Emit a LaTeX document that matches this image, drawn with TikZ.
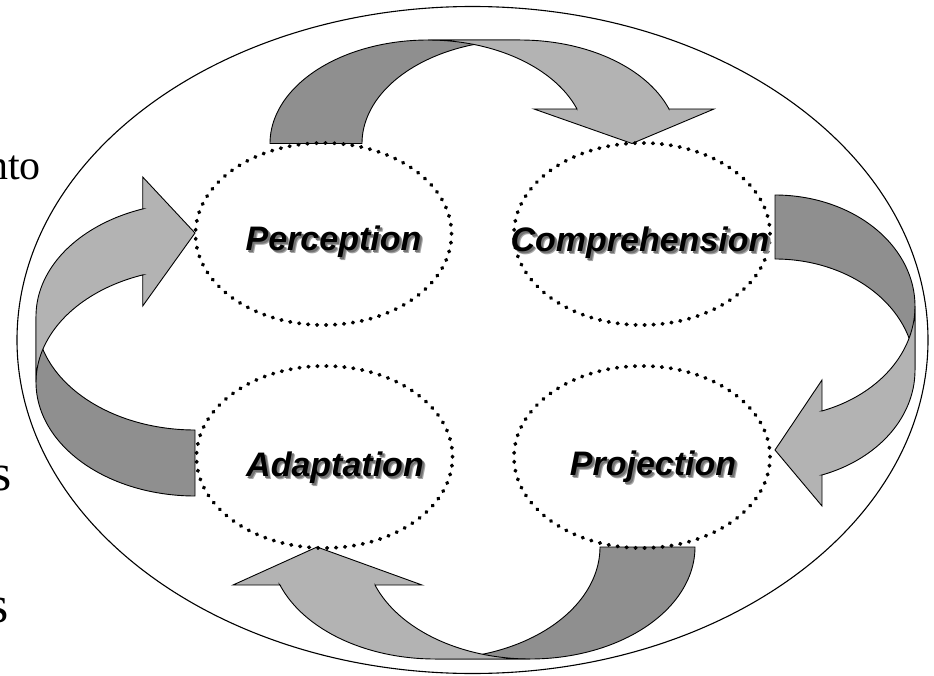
\documentclass[tikz,border=0pt]{standalone}
\usepackage{fontspec}
\setmainfont{Liberation Serif}
\newfontfamily\lblfont{Liberation Sans}
\usetikzlibrary{shapes.geometric}
\definecolor{backgray}{RGB}{143,143,143}
\definecolor{frontgray}{RGB}{179,179,179}
\tikzset{
  backpart/.style={fill=backgray, draw=black, line width=0.9bp, line join=miter},
  frontpart/.style={fill=frontgray, draw=black, line width=0.9bp, line join=miter},
  dotell/.style={ellipse, draw=black, line width=3.8bp, dash pattern=on 0.6bp off 8.4bp,
    line cap=round, minimum width=256bp, minimum height=182bp, inner sep=0pt},
  lbl/.style={font=\lblfont\bfseries\itshape\fontsize{34bp}{40bp}\selectfont, inner sep=0pt, anchor=base},
  lblshadow/.style={lbl, text=black!35},
  lblshadowin/.style={lbl, text=black!55},
  cuttext/.style={inner sep=0pt, anchor=base east},
  outerell/.style={ellipse, draw=black, line width=1.1bp, minimum width=911bp, minimum height=667bp, inner sep=0pt}
}
% #1 th, #2 wR, #3 h, #4 head-base height, #5 head inner end, #6 head outer end, #7 tip
\newcommand{\ribbonarrow}[7]{%
  \pgfmathsetmacro\rbT{asin(#4/#3)}%
  \pgfmathsetmacro\rbC{#2+#2*cos(\rbT)}%
  \pgfmathsetmacro\rbD{#1+#2+#2*cos(\rbT)}%
  \filldraw[backpart] plot[domain=180:90, samples=60, variable=\t] ({#2+#2*cos(\t)},{#3*sin(\t)})
    -- plot[domain=90:180, samples=60, variable=\t] ({#1+#2+#2*cos(\t)},{#3*sin(\t)}) -- cycle;
  \filldraw[frontpart] (\rbD,#4) -- (#6,#4) -- (#7,0) -- (#5,#4) -- (\rbC,#4)
    -- plot[domain=\rbT:90, samples=60, variable=\t] ({#2+#2*cos(\t)},{#3*sin(\t)})
    -- plot[domain=90:\rbT, samples=60, variable=\t] ({#1+#2+#2*cos(\t)},{#3*sin(\t)}) -- cycle;
}
\begin{document}
\begin{tikzpicture}[x=1bp, y=-1bp]
\useasboundingbox (0,0) rectangle (934,676);
\clip (0,0) rectangle (934,676);
\fill[white] (0,0) rectangle (934,676);

% cut-off text at the left edge
\node[cuttext, font=\fontsize{42bp}{48bp}\selectfont] (txtA) at (41,179.5) {nto};
\node[cuttext, font=\fontsize{52bp}{58bp}\selectfont] (txtB) at (11.5,490) {s};
\node[cuttext, font=\fontsize{52bp}{58bp}\selectfont] (txtC) at (8.5,622) {s};

% outer ellipse
\node[outerell] (outer) at (472.5,340) {};

% curved arrows
\begin{scope}[shift={(270,143.5)}, x={(1bp,0bp)}, y={(0bp,1bp)}]
  \ribbonarrow{92}{158}{103.5}{34.5}{264}{444}{362}
\end{scope}
\begin{scope}[shift={(775,195)}, x={(0bp,-1bp)}, y={(1bp,0bp)}]
  \ribbonarrow{64}{111.2}{140}{47}{185}{311}{255}
\end{scope}
\begin{scope}[shift={(695,547)}, x={(-1bp,0bp)}, y={(0bp,-1bp)}]
  \ribbonarrow{95}{164.9}{112}{38}{273}{462}{378}
\end{scope}
\begin{scope}[shift={(195,496)}, x={(0bp,1bp)}, y={(-1bp,0bp)}]
  \ribbonarrow{66}{113.7}{159}{52.3}{190}{319}{263}
\end{scope}

% dotted ellipses
\node[dotell] (perc) at (323.5,234) {};
\node[dotell] (comp) at (642,234) {};
\node[dotell] (adap) at (324.5,457) {};
\node[dotell] (proj) at (642,457) {};

% labels with soft shadow
\node[lblshadow] (percS) at (336.5,253) {Perception};
\node[lblshadowin] (percT) at (335.5,252) {Perception};
\node[lbl] (percL) at (333.5,250) {Perception};
\node[lblshadow] (compS) at (643,254) {Comprehension};
\node[lblshadowin] (compT) at (642,253) {Comprehension};
\node[lbl] (compL) at (640,251) {Comprehension};
\node[lblshadow] (adapS) at (338,479) {Adaptation};
\node[lblshadowin] (adapT) at (337,478) {Adaptation};
\node[lbl] (adapL) at (335,476) {Adaptation};
\node[lblshadow] (projS) at (656,478) {Projection};
\node[lblshadowin] (projT) at (655,477) {Projection};
\node[lbl] (projL) at (653,475) {Projection};
\end{tikzpicture}
\end{document}
